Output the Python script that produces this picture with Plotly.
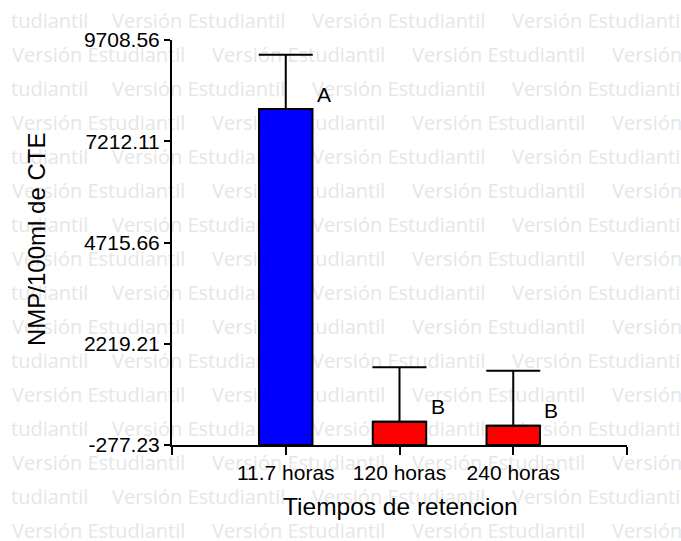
import plotly.graph_objects as go

# ---- data ----
categories = ["11.7 horas", "120 horas", "240 horas"]
means = [8007, 297, 199]
errors_up = [1335, 1342, 1356]
letters = ["A", "B", "B"]
bar_colors = ["#0000FF", "#FF0000", "#FF0000"]
y_ticks = [-277.23, 2219.21, 4715.66, 7212.11, 9708.56]
y_tick_labels = ["-277.23", "2219.21", "4715.66", "7212.11", "9708.56"]
x_title = "Tiempos de retencion"
y_title = "NMP/100ml de CTE"
watermark = "Versión Estudiantil"
watermark_tail = "tudiantil"

# ---- layout geometry (pixels) ----
W, H = 681, 541
ax_left, ax_right, ax_top, ax_bottom = 172, 627, 40, 445
FONT = "Liberation Sans, Arial, sans-serif"

fig = go.Figure()

# ---- watermark (drawn in a full-figure subplot underneath) ----
wx, wy, wt = [], [], []
period = 200
for k in range(16):
    y = 23 + 34 * k
    if k % 2 == 0:
        wx.append(11); wy.append(y); wt.append(watermark_tail)
        start = 112
    else:
        start = 12
    x = start
    while x < W:
        wx.append(x); wy.append(y); wt.append(watermark)
        x += period

fig.add_trace(go.Scatter(
    x=wx, y=wy, text=wt, mode="text", textposition="middle right",
    textfont=dict(family="Open Sans", size=20, color="#e6e6e6"),
    hoverinfo="skip", showlegend=False, xaxis="x", yaxis="y",
))

# ---- bars ----
y_min, y_max = y_ticks[0], y_ticks[-1]
xpos = list(range(len(categories)))
fig.add_trace(go.Bar(
    x=xpos, y=[m - y_min for m in means], base=y_min, width=0.47,
    marker=dict(color=bar_colors, line=dict(color="black", width=2)),
    error_y=dict(type="data", symmetric=False, array=errors_up,
                 arrayminus=[0] * len(means), color="black",
                 thickness=2, width=27),
    showlegend=False, xaxis="x2", yaxis="y2",
))

annotations = []
for i, (m, lab) in enumerate(zip(means, letters)):
    annotations.append(dict(
        x=xpos[i], y=m, xref="x2", yref="y2", text=lab, showarrow=False,
        xshift=38, yshift=15, font=dict(family=FONT, size=21, color="black"),
    ))
annotations.append(dict(
    x=400 / W, y=1 - 506 / H, xref="paper", yref="paper", text=x_title,
    showarrow=False, xanchor="center", yanchor="middle",
    font=dict(family=FONT, size=24.5, color="black"),
))
annotations.append(dict(
    x=36 / W, y=1 - 240 / H, xref="paper", yref="paper", text=y_title,
    showarrow=False, xanchor="center", yanchor="middle", textangle=-90,
    font=dict(family=FONT, size=24, color="black"),
))

axis_common = dict(
    showline=True, linecolor="black", linewidth=2, ticks="outside",
    tickwidth=2, tickcolor="black", showgrid=False, zeroline=False,
    tickfont=dict(family=FONT, size=21, color="black"), fixedrange=True,
    automargin=False,
)

fig.update_layout(
    template="none",
    width=W, height=H, autosize=False,
    margin=dict(l=0, r=0, t=0, b=0, pad=0, autoexpand=False),
    paper_bgcolor="white", plot_bgcolor="rgba(0,0,0,0)",
    showlegend=False, annotations=annotations,
    xaxis=dict(domain=[0, 1], range=[0, W], visible=False, fixedrange=True,
               automargin=False),
    yaxis=dict(domain=[0, 1], range=[H, 0], visible=False, fixedrange=True,
               automargin=False),
    xaxis2=dict(
        domain=[ax_left / W, ax_right / W], anchor="y2", range=[-1, 3],
        tickmode="array", tickvals=[-1] + xpos + [3],
        ticktext=[""] + categories + [""], ticklen=8, **axis_common,
    ),
    yaxis2=dict(
        domain=[1 - ax_bottom / H, 1 - ax_top / H], anchor="x2",
        range=[y_min, y_max], tickmode="array", tickvals=y_ticks,
        ticktext=y_tick_labels, ticklen=6, **axis_common,
    ),
)

fig.write_html(
    "out.html",
    config={"displayModeBar": False},
    post_script="document.body.style.margin='0';",
)
